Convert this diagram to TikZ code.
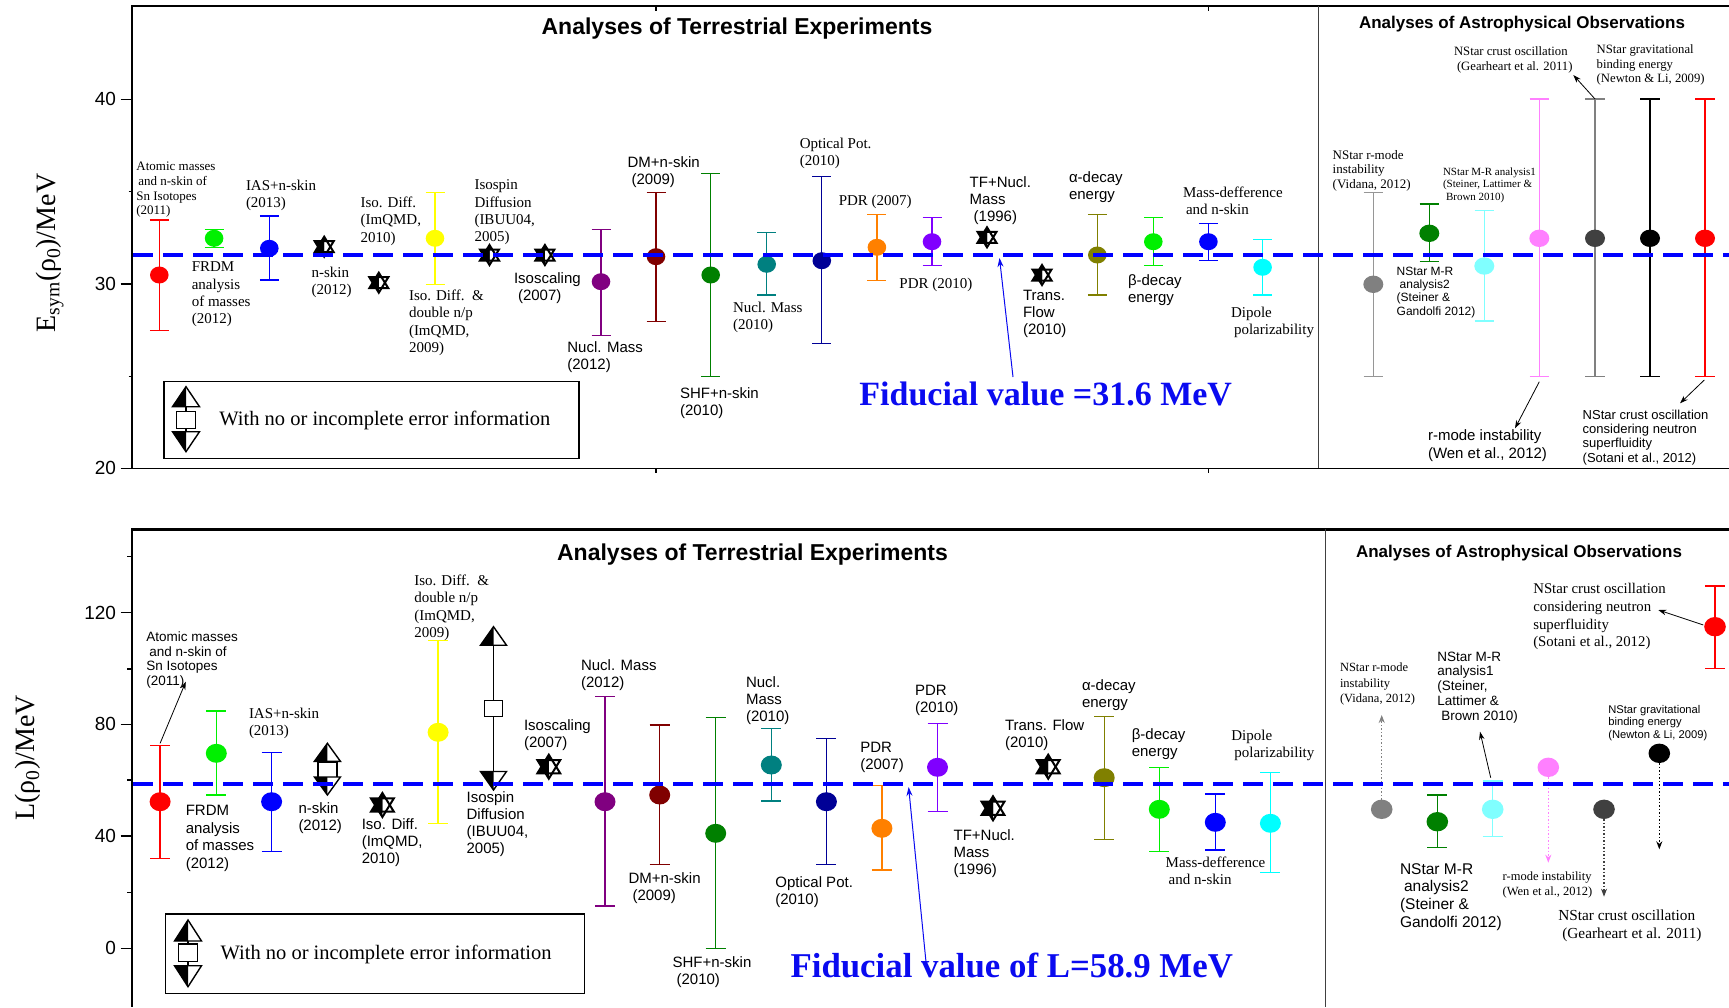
\documentclass[tikz,border=0pt]{standalone}
\usepackage{fontspec}
\setmainfont{Liberation Serif}
\setsansfont{Liberation Sans}
\usetikzlibrary{arrows.meta,shapes.geometric}
\definecolor{cRed}{RGB}{255,0,0}
\definecolor{cGreen}{RGB}{0,240,0}
\definecolor{cBlue}{RGB}{0,0,255}
\definecolor{cYellow}{RGB}{255,255,0}
\definecolor{cPurple}{RGB}{128,0,128}
\definecolor{cDkRed}{RGB}{128,0,0}
\definecolor{cDkGreen}{RGB}{0,128,0}
\definecolor{cTeal}{RGB}{0,128,128}
\definecolor{cNavy}{RGB}{0,0,150}
\definecolor{cOrange}{RGB}{255,128,0}
\definecolor{cViolet}{RGB}{128,0,255}
\definecolor{cOlive}{RGB}{128,128,0}
\definecolor{cCyan}{RGB}{0,255,255}
\definecolor{cLtCyan}{RGB}{128,255,255}
\definecolor{cGray}{RGB}{128,128,128}
\definecolor{cLtGray}{RGB}{150,150,150}
\definecolor{cPink}{RGB}{255,128,255}
\definecolor{cDkGray}{RGB}{64,64,64}
\definecolor{fidblue}{RGB}{10,10,240}
\newcommand\EBar[5]{\draw[ebar,#1] (#2,#3) -- (#2,#4) (#2-#5,#3) -- (#2+#5,#3) (#2-#5,#4) -- (#2+#5,#4);}
\newcommand\UpDown[8]{%
 \draw[line width=1.4pt] (#1,#2+#3) -- (#1,#6-#3);
 \filldraw[fill=white,line width=1.4pt] (#1-#8,#4) rectangle (#1+#8,#5);
 \fill[white] (#1,#2) -- (#1-#7,#2+#3) -- (#1+#7,#2+#3) -- cycle;
 \fill[black] (#1,#2) -- (#1-#7,#2+#3) -- (#1,#2+#3) -- cycle;
 \draw[line width=1.4pt,line join=miter] (#1,#2) -- (#1-#7,#2+#3) -- (#1+#7,#2+#3) -- cycle;
 \fill[white] (#1,#6) -- (#1-#7,#6-#3) -- (#1+#7,#6-#3) -- cycle;
 \fill[black] (#1,#6) -- (#1-#7,#6-#3) -- (#1,#6-#3) -- cycle;
 \draw[line width=1.4pt,line join=miter] (#1,#6) -- (#1-#7,#6-#3) -- (#1+#7,#6-#3) -- cycle;}
\tikzset{
 every node/.style={inner sep=0pt, outer sep=0pt},
 sr/.style 2 args={anchor=north west, align=left, font=\rmfamily\fontsize{#1}{#2}\selectfont},
 ss/.style 2 args={anchor=north west, align=left, font=\sffamily\fontsize{#1}{#2}\selectfont},
 lr/.style={sr={15}{17.3}},
 ls/.style={ss={15}{17}},
 ebar/.style={line width=1.3pt},
 dotT/.style={ellipse, minimum width=18.6pt, minimum height=17pt},
 dotA/.style={ellipse, minimum width=20pt, minimum height=17.4pt},
 dotB/.style={ellipse, minimum width=21pt, minimum height=19pt},
 dotC/.style={ellipse, minimum width=21.6pt, minimum height=19.4pt},
 fid/.style={dash pattern=on 20pt off 10pt, line width=4pt, cBlue},
 arr/.style={-{Stealth[length=8pt,width=5.5pt]}, line width=0.8pt},
 farr/.style={-{Stealth[length=9pt,width=6pt]}, line width=1pt, fidblue},
 darr/.style={-{Stealth[length=8pt,width=6pt]}, line width=1.2pt, dash pattern=on 1.5pt off 2pt},
 ttl/.style={font=\sffamily\bfseries\fontsize{23}{27}\selectfont},
 ttlb/.style={font=\sffamily\bfseries\fontsize{17}{20}\selectfont},
 fidtxt/.style={anchor=base west, text=fidblue, font=\rmfamily\bfseries\fontsize{34}{39}\selectfont},
 tick/.style={anchor=east, font=\sffamily\fontsize{19}{22}\selectfont},
 ylab/.style={rotate=90, font=\rmfamily\fontsize{28}{32}\selectfont},
 legtxt/.style={anchor=west, font=\rmfamily\fontsize{20.5}{24}\selectfont},
 hexstar/.pic={
  \begin{scope}
   \clip (-12,-12) rectangle (0,12);
   \fill (0,-10) -- (-9.5,5.5) -- (9.5,5.5) -- cycle;
   \fill (0,10) -- (-9.5,-5.5) -- (9.5,-5.5) -- cycle;
  \end{scope}
  \fill (0,-10) -- (-3.2,-5.5) -- (3.2,-5.5) -- cycle;
  \draw[line width=2pt,line join=miter] (0,-10) -- (-9.5,5.5) -- (9.5,5.5) -- cycle;
  \draw[line width=2pt,line join=miter] (0,10) -- (-9.5,-5.5) -- (9.5,-5.5) -- cycle;
 }
}
\begin{document}
\begin{tikzpicture}[x=1pt,y=-1pt]
\useasboundingbox (0,0) rectangle (1729,1007);
\fill[white] (0,0) rectangle (1729,1007);

%% ================= TOP PANEL =================
\draw[line width=1.5pt] (131.7,6) -- (1729,6);
\draw[line width=1.5pt] (131.7,468.3) -- (1729,468.3);
\draw[line width=1.5pt,cDkGray] (1318.3,6) -- (1318.3,468.3);
\draw[line width=1.2pt] (656,6) -- (656,11) (1208.4,6) -- (1208.4,11) (656,468.3) -- (656,473) (1208.4,468.3) -- (1208.4,473);
\draw[line width=1.5pt] (120.7,99.3) -- (131.7,99.3) (120.7,284) -- (131.7,284) (120.7,468.3) -- (131.7,468.3)
  (128.5,191.7) -- (131.7,191.7) (128.5,376.7) -- (131.7,376.7);
\draw[line width=2.4pt] (131.7,5) -- (131.7,469.3);
\node[tick] (tk40) at (116,99.3) {40};
\node[tick] (tk30) at (116,284) {30};
\node[tick] (tk20) at (116,468.3) {20};
\node[ylab] (ylabE) at (50,253) {E\textsubscript{sym}(ρ\textsubscript{0})/MeV};
\node[ttl] (ttlT1) at (737,29) {Analyses of Terrestrial Experiments};
\node[ttlb] (ttlA1) at (1522,24) {Analyses of Astrophysical Observations};

% error bars (terrestrial)
\EBar{cRed}{159.3}{220}{330.7}{9.5}
\EBar{cGreen}{214.1}{229.3}{247.3}{9.5}
\EBar{cBlue}{269.3}{216}{280}{9.5}
\EBar{cYellow}{435}{192.3}{284.3}{9.5}
\EBar{cPurple}{601}{229.3}{335.7}{9.5}
\EBar{cDkRed}{656}{192.3}{321.7}{9.5}
\EBar{cDkGreen}{710.7}{173.7}{376.7}{9.5}
\EBar{cTeal}{766.7}{232.7}{295}{9.5}
\EBar{cNavy}{821.8}{176.7}{343.3}{9.5}
\EBar{cOrange}{876.9}{214.7}{280.3}{9.5}
\EBar{cViolet}{932}{217.3}{265.7}{9.5}
\EBar{cOlive}{1097.3}{214.7}{295}{9.5}
\EBar{cGreen}{1153.3}{217.3}{265.7}{9.5}
\EBar{cBlue}{1208.4}{223.7}{260.7}{9.5}
\EBar{cCyan}{1262.6}{239.7}{295}{9.5}
% error bars (astro)
\EBar{cLtGray}{1373.3}{192.3}{376.7}{9.7}
\EBar{cDkGreen}{1429.3}{204}{261.7}{9.7}
\EBar{cLtCyan}{1484.3}{210.7}{321}{9.7}
\EBar{cPink}{1539.3}{99}{376.7}{9.7}
\EBar{cGray}{1595}{99}{376.7}{9.7}
\EBar{black}{1650}{99}{376.7}{9.7}
\EBar{cRed}{1705}{99}{376.7}{9.7}

% dots
\node[dotT,fill=cRed] (p1) at (159.3,275) {};
\node[dotT,fill=cGreen] (p2) at (214.1,238.3) {};
\node[dotT,fill=cBlue] (p3) at (269.3,248.3) {};
\node[dotT,fill=cYellow] (p6) at (435,238.3) {};
\node[dotT,fill=cPurple] (p9) at (601,281.7) {};
\node[dotT,fill=cDkRed] (p10) at (656,256.7) {};
\node[dotT,fill=cDkGreen] (p11) at (710.7,275) {};
\node[dotT,fill=cTeal] (p12) at (766.7,264.3) {};
\node[dotT,fill=cNavy] (p13) at (821.8,260.7) {};
\node[dotT,fill=cOrange] (p14) at (876.9,247.3) {};
\node[dotT,fill=cViolet] (p15) at (932,241.7) {};
\node[dotT,fill=cOlive] (p18) at (1097.3,255) {};
\node[dotT,fill=cGreen] (p19) at (1153.3,241.7) {};
\node[dotT,fill=cBlue] (p20) at (1208.4,241.7) {};
\node[dotT,fill=cCyan] (p21) at (1262.6,267.3) {};
\pic at (324.2,246.7) {hexstar};
\pic at (378.8,282.7) {hexstar};
\pic at (489.5,255) {hexstar};
\pic at (544.9,255) {hexstar};
\pic at (987,237.3) {hexstar};
\pic at (1042,275) {hexstar};
\node[dotA,fill=cGray] (a1) at (1373.3,284.3) {};
\node[dotA,fill=cDkGreen] (a2) at (1429.3,233.3) {};
\node[dotA,fill=cLtCyan] (a3) at (1484.3,266) {};
\node[dotA,fill=cPink] (a4) at (1539.3,238.3) {};
\node[dotA,fill=cDkGray] (a5) at (1595,238.3) {};
\node[dotA,fill=black] (a6) at (1650,238.3) {};
\node[dotA,fill=cRed] (a7) at (1705,238.3) {};

% labels top terrestrial
\node[sr={13}{14.7}] (t1) at (136.4,162) {Atomic masses\\\hspace*{2pt}and n-skin of\\Sn Isotopes\\(2011)};
\node[lr] (t2) at (191.8,262) {FRDM\\analysis\\of masses\\(2012)};
\node[lr] (t3) at (246,180) {IAS+n-skin\\(2013)};
\node[lr] (t4) at (311.6,267) {n-skin\\(2012)};
\node[lr] (t5) at (360.6,197) {Iso. Diff.\\(ImQMD,\\2010)};
\node[lr] (t6) at (409,290) {Iso. Diff.\ \ \&\\double n/p\\(ImQMD,\\2009)};
\node[lr] (t7) at (474.5,180) {Isospin\\Diffusion\\(IBUU04,\\2005)};
\node[ls] (t8) at (514,273) {Isoscaling\\\hspace*{4pt}(2007)};
\node[ls] (t9) at (567.4,342) {Nucl. Mass\\(2012)};
\node[ls] (t10) at (627.6,157) {DM+n-skin\\\hspace*{4pt}(2009)};
\node[ls] (t11) at (680,388) {SHF+n-skin\\(2010)};
\node[lr] (t12) at (733,302) {Nucl. Mass\\(2010)};
\node[lr] (t13) at (799.8,138) {Optical Pot.\\(2010)};
\node[lr] (t14) at (838.8,195) {PDR (2007)};
\node[lr] (t15) at (899.4,278) {PDR (2010)};
\node[ls] (t16) at (969.7,177) {TF+Nucl.\\Mass\\\hspace*{4pt}(1996)};
\node[ls] (t17) at (1023,290) {Trans.\\Flow\\(2010)};
\node[ls] (t18) at (1069,172) {α-decay\\energy};
\node[ls] (t19) at (1128,275) {β-decay\\energy};
\node[lr] (t20) at (1183,187) {Mass-defference\\\hspace*{3pt}and n-skin};
\node[lr] (t21) at (1231,307) {Dipole\\\hspace*{3pt}polarizability};
% labels top astro
\node[sr={13}{14.7}] (ta1) at (1332.7,150) {NStar r-mode\\instability\\(Vidana, 2012)};
\node[ss={12}{13.3}] (ta2) at (1396.7,267) {NStar M-R\\\hspace*{3pt}analysis2\\(Steiner \&\\Gandolfi 2012)};
\node[sr={11}{12.2}] (ta3) at (1443,168) {NStar M-R analysis1\\(Steiner, Lattimer \&\\\hspace*{3pt}Brown 2010)};
\node[ss={15}{17.3}] (ta4) at (1428,430) {r-mode instability\\(Wen et al., 2012)};
\node[sr={12.7}{14.3}] (ta5) at (1454,47) {NStar crust oscillation\\\hspace*{3pt}(Gearheart et al. 2011)};
\node[sr={12.7}{14.3}] (ta6) at (1596.7,45) {NStar gravitational\\binding energy\\(Newton \& Li, 2009)};
\node[ss={13}{14.2}] (ta7) at (1582.7,410) {NStar crust oscillation\\considering neutron\\superfluidity\\(Sotani et al., 2012)};
\coordinate (ca4s) at (1539.3,381.7); \coordinate (ca4e) at (1515,428.3);
\coordinate (ca5s) at (1595,99); \coordinate (ca5e) at (1573.3,75);
\coordinate (ca7s) at (1704.3,380); \coordinate (ca7e) at (1680,403.3);
\draw[arr] (ca4s) -- (ca4e);
\draw[arr] (ca5s) -- (ca5e);
\draw[arr] (ca7s) -- (ca7e);

% legend top
\node[draw,line width=1.3pt,minimum width=415pt,minimum height=76.6pt,anchor=north west] (leg1) at (164,381.7) {};
\UpDown{186}{386.7}{20}{411.7}{428.3}{451.7}{13.5}{9.7}
\node[legtxt] (legt1) at (219.4,420.7) {With no or incomplete error information};

% fiducial top
\draw[fid] (133,255.3) -- (1729,255.3);
\node[fidtxt] (fid1) at (859.4,405) {Fiducial value =31.6 MeV};
\coordinate (cf1s) at (1013,377); \coordinate (cf1e) at (999.5,258);
\draw[farr] (cf1s) -- (cf1e);

%% ================= BOTTOM PANEL =================
\draw[line width=2.5pt] (131.7,529.3) -- (1729,529.3);
\draw[line width=1.5pt,cDkGray] (1325.7,529.3) -- (1325.7,1007);
\draw[line width=1.5pt] (120.7,612.7) -- (131.7,612.7) (120.7,724.3) -- (131.7,724.3) (120.7,836) -- (131.7,836) (120.7,948.3) -- (131.7,948.3)
  (127.3,556.7) -- (131.7,556.7) (127.3,669) -- (131.7,669) (127.3,780) -- (131.7,780) (127.3,892.3) -- (131.7,892.3);
\draw[line width=2.4pt] (131.7,528) -- (131.7,1007);
\node[tick] (tb120) at (116,612.7) {120};
\node[tick] (tb80) at (116,724.3) {80};
\node[tick] (tb40) at (116,836) {40};
\node[tick] (tb0) at (116,948.3) {0};
\node[ylab] (ylabL) at (28,758) {L(ρ\textsubscript{0})/MeV};
\node[ttl] (ttlT2) at (752.5,555) {Analyses of Terrestrial Experiments};
\node[ttlb] (ttlA2) at (1519,553.3) {Analyses of Astrophysical Observations};

\EBar{cRed}{160.1}{745.7}{858.3}{10}
\EBar{cGreen}{216.3}{711}{795}{10}
\EBar{cBlue}{271.6}{752.7}{851.7}{10}
\EBar{cYellow}{438.1}{640.7}{823.3}{10}
\EBar{cPurple}{605}{696.7}{906}{10}
\EBar{cDkRed}{659.7}{725}{864.3}{10}
\EBar{cDkGreen}{715.7}{717.7}{948.3}{10}
\EBar{cTeal}{771.3}{728.3}{801}{10}
\EBar{cNavy}{826.4}{738.3}{864.3}{10}
\EBar{cOrange}{881.9}{785.7}{870}{10}
\EBar{cViolet}{937.5}{723.3}{811.7}{10}
\EBar{cOlive}{1104.2}{716.7}{839.3}{10}
\EBar{cGreen}{1159.3}{767.3}{851.7}{10}
\EBar{cBlue}{1215.3}{794}{850}{10}
\EBar{cCyan}{1270.4}{772.7}{872.7}{10}
\EBar{cDkGreen}{1437.3}{795}{847.7}{10}
\EBar{cLtCyan}{1492.7}{781}{836.7}{10}
\EBar{cRed}{1715}{586}{668.3}{10}

\node[dotB,fill=cRed] (q1) at (160.1,801.7) {};
\node[dotB,fill=cGreen] (q2) at (216.3,753.3) {};
\node[dotB,fill=cBlue] (q3) at (271.6,801.7) {};
\node[dotB,fill=cYellow] (q6) at (438.1,732.3) {};
\node[dotB,fill=cPurple] (q9) at (605,801.7) {};
\node[dotB,fill=cDkRed] (q10) at (659.7,795) {};
\node[dotB,fill=cDkGreen] (q11) at (715.7,833.3) {};
\node[dotB,fill=cTeal] (q12) at (771.3,765) {};
\node[dotB,fill=cNavy] (q13) at (826.4,801.7) {};
\node[dotB,fill=cOrange] (q14) at (881.9,828.3) {};
\node[dotB,fill=cViolet] (q15) at (937.5,767.3) {};
\node[dotB,fill=cOlive] (q18) at (1104.2,777.7) {};
\node[dotB,fill=cGreen] (q19) at (1159.3,809.3) {};
\node[dotB,fill=cBlue] (q20) at (1215.3,822.3) {};
\node[dotB,fill=cCyan] (q21) at (1270.4,823.3) {};
\UpDown{327.4}{743.3}{18}{762.7}{777.3}{795}{13}{9.5}
\UpDown{493.5}{626.7}{18.5}{700.7}{716.7}{790}{13}{9}
\pic[scale=1.2] at (382.4,805) {hexstar};
\pic[scale=1.2] at (548.8,766.7) {hexstar};
\pic[scale=1.2] at (993,808.3) {hexstar};
\pic[scale=1.2] at (1048.2,766.7) {hexstar};
\node[dotC,fill=cGray] (c1) at (1381.7,809.3) {};
\node[dotC,fill=cDkGreen] (c2) at (1437.3,821.7) {};
\node[dotC,fill=cLtCyan] (c3) at (1492.7,809.3) {};
\node[dotC,fill=cPink] (c4) at (1548.3,767.3) {};
\node[dotC,fill=cDkGray] (c5) at (1604,809.3) {};
\node[dotC,fill=black] (c6) at (1659.3,753.3) {};
\node[dotC,fill=cRed] (c7) at (1715,626.7) {};

% labels bottom terrestrial
\node[ss={13.5}{14.7}] (b1) at (146.3,631.7) {Atomic masses\\\hspace*{3pt}and n-skin of\\Sn Isotopes\\(2011)};
\node[ss={15}{17.8}] (b2) at (185.8,805) {FRDM\\analysis\\of masses\\(2012)};
\node[lr] (b3) at (249,708) {IAS+n-skin\\(2013)};
\node[ls] (b4) at (298.5,803) {n-skin\\(2012)};
\node[ls] (b5) at (361.8,818.3) {Iso. Diff.\\(ImQMD,\\2010)};
\node[lr] (b6) at (414.4,575) {Iso. Diff.\ \ \&\\double n/p\\(ImQMD,\\2009)};
\node[ls] (b7) at (466.6,791.7) {Isospin\\Diffusion\\(IBUU04,\\2005)};
\node[ls] (b8) at (524,720) {Isoscaling\\(2007)};
\node[ls] (b9) at (581,660) {Nucl. Mass\\(2012)};
\node[ls] (b10) at (628.5,872.7) {DM+n-skin\\\hspace*{4pt}(2009)};
\node[ls] (b11) at (672.6,956.7) {SHF+n-skin\\\hspace*{4pt}(2010)};
\node[ls] (b12) at (746,676.7) {Nucl.\\Mass\\(2010)};
\node[ls] (b13) at (775.4,876.7) {Optical Pot.\\(2010)};
\node[ls] (b14) at (860.4,741.7) {PDR\\(2007)};
\node[ls] (b15) at (915,685) {PDR\\(2010)};
\node[ls] (b16) at (953.6,830) {TF+Nucl.\\Mass\\(1996)};
\node[ls] (b17) at (1005,720) {Trans. Flow\\(2010)};
\node[ls] (b18) at (1082,680) {α-decay\\energy};
\node[ls] (b19) at (1131.8,728.3) {β-decay\\energy};
\node[lr] (b20) at (1165.7,856.7) {Mass-defference\\\hspace*{3pt}and n-skin};
\node[lr] (b21) at (1231.4,730) {Dipole\\\hspace*{3pt}polarizability};
\coordinate (cb1s) at (160.1,743.3); \coordinate (cb1e) at (185.8,681.7);
\draw[arr] (cb1s) -- (cb1e);
% labels bottom astro
\node[sr={12.5}{15.3}] (bc1) at (1340,663.3) {NStar r-mode\\instability\\(Vidana, 2012)};
\node[ss={15.5}{17.8}] (bc2) at (1400,863.3) {NStar M-R\\\hspace*{4pt}analysis2\\(Steiner \&\\Gandolfi 2012)};
\node[ss={13.5}{14.8}] (bc3) at (1437.3,651.7) {NStar M-R\\analysis1\\(Steiner,\\Lattimer \&\\\hspace*{4pt}Brown 2010)};
\node[sr={12.5}{15.5}] (bc4) at (1502.7,871.7) {r-mode instability\\(Wen et al., 2012)};
\node[sr={15.3}{18}] (bc5) at (1558.3,910) {NStar crust oscillation\\\hspace*{4pt}(Gearheart et al. 2011)};
\node[ss={11.2}{12.5}] (bc6) at (1608.3,705) {NStar gravitational\\binding energy\\(Newton \& Li, 2009)};
\node[sr={14.8}{17.8}] (bc7) at (1533.3,583.3) {NStar crust oscillation\\considering neutron\\superfluidity\\(Sotani et al., 2012)};
\coordinate (cc1e) at (1381.7,715);
\coordinate (cc3s) at (1490.7,777.7); \coordinate (cc3e) at (1480,731.7);
\coordinate (cc4e) at (1548.3,862.7);
\coordinate (cc5e) at (1604,896.7);
\coordinate (cc6e) at (1659.3,849.3);
\coordinate (cc7s) at (1703.3,625); \coordinate (cc7e) at (1658.3,610);
\draw[darr,cGray] (c1.north) -- (cc1e);
\draw[darr,cPink] (c4.south) -- (cc4e);
\draw[darr,cDkGray] (c5.south) -- (cc5e);
\draw[darr,black] (c6.south) -- (cc6e);
\draw[arr] (cc3s) -- (cc3e);
\draw[arr] (cc7s) -- (cc7e);

% legend bottom
\node[draw,line width=1.3pt,minimum width=419pt,minimum height=79.3pt,anchor=north west] (leg2) at (165.3,914) {};
\UpDown{188}{920}{21}{944}{961.7}{986.7}{13.5}{9.7}
\node[legtxt] (legt2) at (220.6,954) {With no or incomplete error information};

% fiducial bottom
\draw[fid] (133,784) -- (1729,784);
\node[fidtxt,font=\rmfamily\bfseries\fontsize{34.8}{40}\selectfont] (fid2) at (790.6,977) {Fiducial value of L=58.9 MeV};
\coordinate (cf2s) at (926,962); \coordinate (cf2e) at (908.6,787);
\draw[farr] (cf2s) -- (cf2e);
\end{tikzpicture}
\end{document}
